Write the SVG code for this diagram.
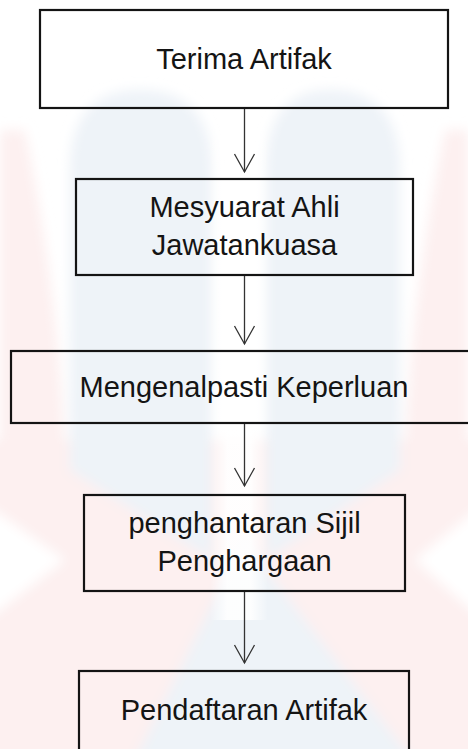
<svg xmlns="http://www.w3.org/2000/svg" width="468" height="749" viewBox="0 0 468 749">
  <defs>
    <style>
      .box { fill: none; stroke: #141414; stroke-width: 2.2; }
      .lbl { font-family: "Liberation Sans", Arial, sans-serif; font-size: 29px; fill: #141414; text-anchor: middle; }
      .conn { stroke: #333; stroke-width: 1.3; fill: none; }
      .pink { fill: #fdf0f0; }
      .blue { fill: #eef3f8; }
    </style>
    <linearGradient id="strip" x1="0" y1="0" x2="1" y2="0">
      <stop offset="0" stop-color="#ffffff" stop-opacity="0"/>
      <stop offset="0.3" stop-color="#ffffff" stop-opacity="0.9"/>
      <stop offset="0.7" stop-color="#ffffff" stop-opacity="0.9"/>
      <stop offset="1" stop-color="#ffffff" stop-opacity="0"/>
    </linearGradient>
    <filter id="soft" x="-10%" y="-10%" width="120%" height="120%">
      <feGaussianBlur stdDeviation="6"/>
    </filter>
    <marker id="arr" markerUnits="userSpaceOnUse" markerWidth="24" markerHeight="22" viewBox="-12 -20 24 22" refX="0" refY="0" orient="auto-start-reverse" overflow="visible">
      <path d="M-10,-18 L0,0 L10,-18" transform="rotate(-90)" fill="none" stroke="#333" stroke-width="1.3"/>
    </marker>
  </defs>

  <!-- watermark background -->
  <g id="watermark">
    <rect x="0" y="0" width="468" height="749" fill="#ffffff"/>
    <g filter="url(#soft)">
      <path class="pink" d="M0,130 L25,130 Q60,300 65,460 L0,460 Z"/>
      <path class="pink" d="M468,130 L445,130 Q410,300 405,460 L468,460 Z"/>
      <rect class="pink" x="-20" y="440" width="508" height="330"/>
      <path fill="#ffffff" d="M-20,500 L65,560 L-20,625 Z"/>
      <path fill="#ffffff" d="M488,500 L415,560 L488,625 Z"/>
      <path class="blue" d="M70,470 L70,170 Q70,90 140,90 Q212,90 212,170 L212,560 Z"/>
      <path class="blue" d="M400,470 L400,170 Q400,90 330,90 Q266,90 266,170 L266,560 Z"/>
      <path class="blue" d="M244,540 L130,770 L420,770 Z"/>
    </g>
    <rect fill="url(#strip)" x="210" y="0" width="58" height="620"/>
  </g>

  <g id="connectors">
    <line class="conn" x1="244.5" y1="108" x2="244.5" y2="172" marker-end="url(#arr)"/>
    <line class="conn" x1="244.5" y1="276" x2="244.5" y2="344" marker-end="url(#arr)"/>
    <line class="conn" x1="244.5" y1="424" x2="244.5" y2="486" marker-end="url(#arr)"/>
    <line class="conn" x1="244.5" y1="592" x2="244.5" y2="663" marker-end="url(#arr)"/>
  </g>

  <g id="n1">
    <rect class="box" x="40" y="10" width="408" height="98"/>
    <text class="lbl" x="244" y="69">Terima Artifak</text>
  </g>
  <g id="n2">
    <rect class="box" x="76" y="179" width="337" height="96"/>
    <text class="lbl" x="244.5" y="217">Mesyuarat Ahli</text>
    <text class="lbl" x="244.5" y="255">Jawatankuasa</text>
  </g>
  <g id="n3">
    <rect class="box" x="11" y="351" width="467" height="72"/>
    <text class="lbl" x="244" y="397">Mengenalpasti Keperluan</text>
  </g>
  <g id="n4">
    <rect class="box" x="84" y="495" width="321" height="96"/>
    <text class="lbl" x="244.5" y="533">penghantaran Sijil</text>
    <text class="lbl" x="244.5" y="571">Penghargaan</text>
  </g>
  <g id="n5">
    <rect class="box" x="79" y="671" width="330" height="96"/>
    <text class="lbl" x="244" y="720">Pendaftaran Artifak</text>
  </g>
</svg>
